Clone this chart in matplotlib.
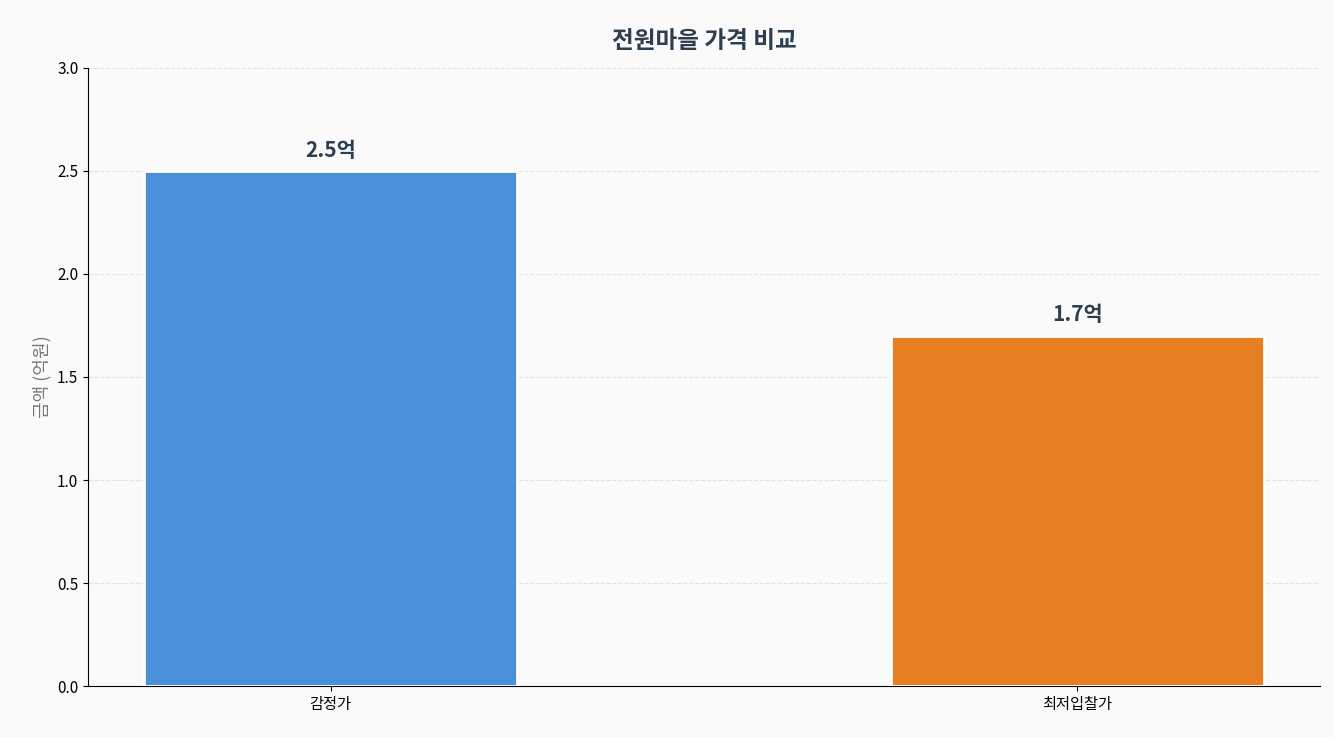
import matplotlib
matplotlib.use("Agg")
import matplotlib.pyplot as plt

plt.rcParams['font.family'] = ['Noto Sans CJK KR', 'DejaVu Sans']

categories = ["감정가", "최저입찰가"]
values = [2.5, 1.7]
labels = ["2.5억", "1.7억"]
colors = ["#4a90d9", "#e67e22"]

fig = plt.figure(figsize=(13.34, 7.37), dpi=100, facecolor="#fafafa")
ax = fig.add_axes([0.066, 0.069, 0.9235, 0.839])
ax.set_facecolor("#fafafa")
bars = ax.bar(range(len(categories)), values, width=0.5, color=colors, edgecolor="white", linewidth=2, zorder=3)
for b, l in zip(bars, labels):
    ax.text(b.get_x() + b.get_width()/2, b.get_height() + 0.05, l, ha="center", va="bottom",
            fontsize=15, fontweight="bold", color="#2c3e50")
ax.set_xticks(range(len(categories)))
ax.set_xticklabels(categories, fontsize=12)
ax.set_xlim(-0.325, 1.325)
ax.set_ylim(0, 3.0)
ax.set_yticks([0, 0.5, 1.0, 1.5, 2.0, 2.5, 3.0])
ax.tick_params(labelsize=11)
ax.set_ylabel("금액 (억원)", fontsize=13, color="#777777")
ax.set_title("전원마을 가격 비교", fontsize=17, fontweight="bold", color="#2c3e50", pad=14)
ax.grid(axis="y", linestyle="--", color="#dddddd", alpha=0.8, zorder=0)
ax.spines["top"].set_visible(False)
ax.spines["right"].set_visible(False)
fig.savefig("out.png", dpi=100, facecolor=fig.get_facecolor())
